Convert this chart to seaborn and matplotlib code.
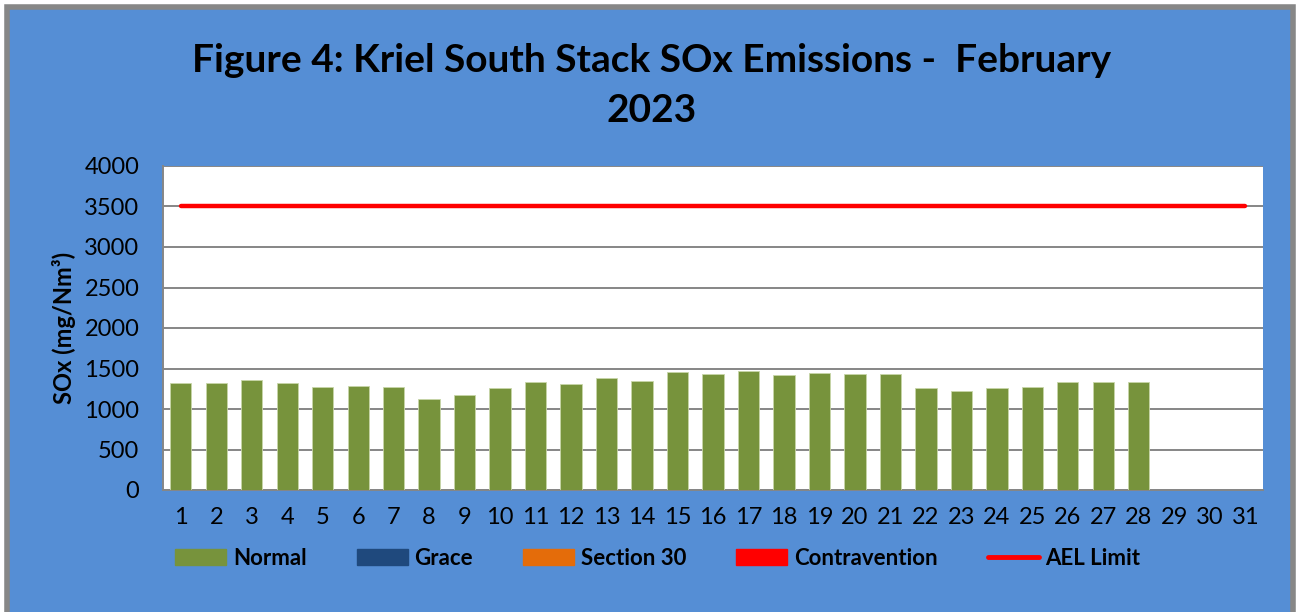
import matplotlib
matplotlib.use('Agg')
import matplotlib.pyplot as plt
import matplotlib.patches as mpatches
import matplotlib.lines as mlines
import seaborn as sns
import numpy as np
import pandas as pd

# Dados (dias de fevereiro 2023)
dias = [str(d) for d in range(1, 32)]
normal = [1316, 1316, 1352, 1324, 1275, 1287, 1266, 1127, 1176, 1262,
          1336, 1307, 1381, 1340, 1451, 1438, 1471, 1418, 1447, 1438,
          1438, 1258, 1221, 1254, 1275, 1336, 1336, 1336,
          np.nan, np.nan, np.nan]
ael_limite = [3500] * 31
series_legenda = ['Normal', 'Grace', 'Section 30', 'Contravention']
cores_series = ['#77933C', '#1F497D', '#E46C0A', '#FF0000']

sns.set_style("white")
plt.rcParams['font.family'] = ['Lato', 'DejaVu Sans']
plt.rcParams['text.color'] = 'black'
plt.rcParams['axes.labelcolor'] = 'black'

fundo = '#558ED5'
fig = plt.figure(figsize=(13, 6.12), dpi=100, facecolor='white')
# moldura cinza + fundo azul
fig.patches.append(mpatches.Rectangle((7 / 1300, -0.01), 1286 / 1300, 1 - 7 / 612 + 0.01,
                                      transform=fig.transFigure, facecolor=fundo,
                                      edgecolor='#878787', linewidth=4, zorder=-5))

ax = fig.add_axes([163 / 1300, 122 / 612, 1100 / 1300, 324 / 612])
ax.set_facecolor('white')

df = pd.DataFrame({'dia': dias, 'Normal': normal})
sns.barplot(data=df, x='dia', y='Normal', color=cores_series[0], saturation=1,
            width=0.6, edgecolor='#C8D6A8', linewidth=0.6, ax=ax, zorder=3)
ax.plot(range(len(dias)), ael_limite, color='#FF0000', linewidth=3.2,
        solid_capstyle='round', zorder=4)

ax.set_ylim(0, 4000)
ax.set_xlim(-0.5, 30.5)
ax.set_yticks(range(0, 4001, 500))
ax.yaxis.grid(True, color='#868686', linewidth=1.4, zorder=0)
ax.set_axisbelow(True)
for lado in ['top', 'right']:
    ax.spines[lado].set_visible(False)
for lado in ['left', 'bottom']:
    ax.spines[lado].set_color('#868686')
    ax.spines[lado].set_linewidth(1.4)
ax.tick_params(axis='both', length=0, labelsize=17, colors='black')
ax.tick_params(axis='y', pad=17)
ax.tick_params(axis='x', pad=12)
ax.set_xlabel('')
ax.set_ylabel('SOx (mg/Nm³)', fontsize=17, fontweight='bold', labelpad=6)

fig.text(0.501, 0.86, 'Figure 4: Kriel South Stack SOx Emissions -  February\n2023',
         ha='center', va='center', fontsize=28, fontweight='bold', linespacing=1.5)

handles = [mpatches.Patch(color=c, label=l) for c, l in zip(cores_series, series_legenda)]
handles.append(mlines.Line2D([], [], color='#FF0000', linewidth=3.5, label='AEL Limit'))
fig.legend(handles=handles, loc='center', bbox_to_anchor=(0.506, 0.088), ncol=5,
           frameon=False, prop={'weight': 'bold', 'size': 16}, handlelength=2.3,
           handleheight=0.75, columnspacing=2.25, handletextpad=0.3)

fig.savefig('out.png', dpi=100, facecolor='white')
